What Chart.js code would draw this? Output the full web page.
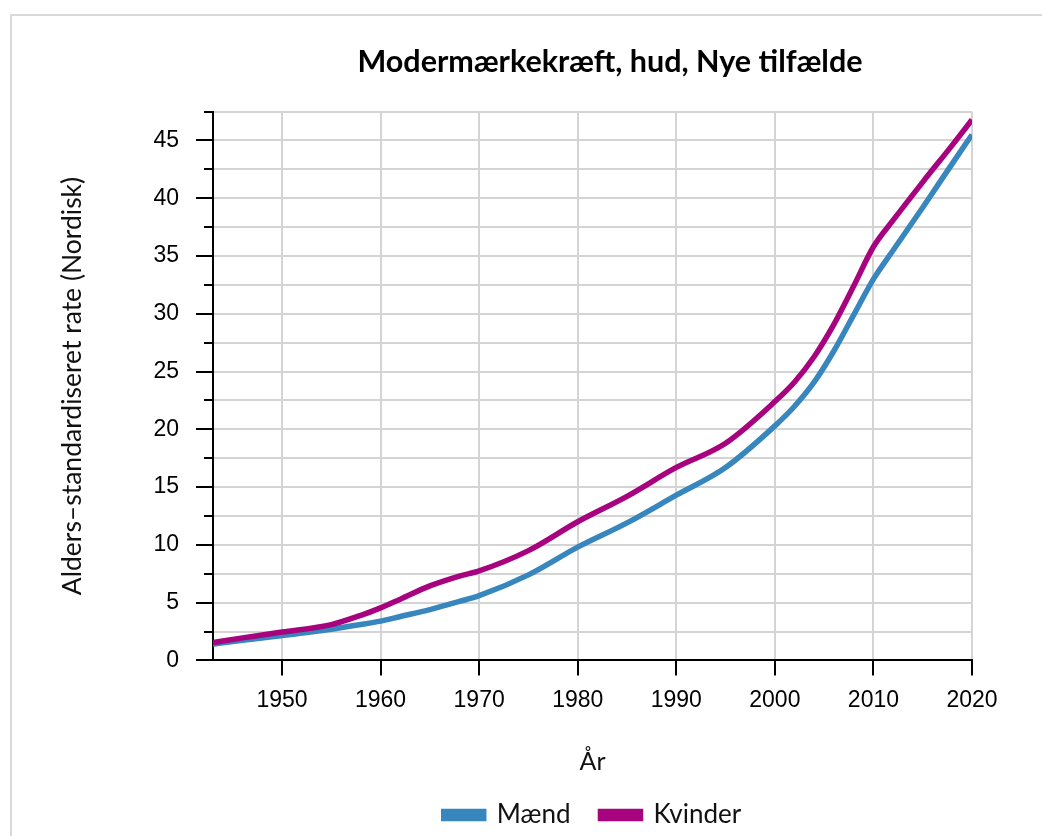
<!DOCTYPE html>
<html>
<head>
<meta charset="utf-8">
<script src="https://cdn.jsdelivr.net/npm/chart.js@4.4.1/dist/chart.umd.min.js"></script>
<style>
  html, body { margin: 0; padding: 0; overflow: hidden; background: #fff; width: 1042px; height: 836px; }
  #frame { position: absolute; left: 10px; top: 14px; width: 1400px; height: 1000px; border: 2px solid #d9d9d9; box-sizing: border-box; background: #fff; }
  #c { position: absolute; left: 0; top: 0; }
</style>
</head>
<body>
<div id="frame"><canvas id="c" width="1196" height="836"></canvas></div>
<script>
const chartTitle = 'Modermærkekræft, hud, Nye tilfælde';
const xTitle = 'År';
const yTitle = 'Alders\u2013standardiseret rate (Nordisk)';
const seriesNames = ['Mænd', 'Kvinder'];

const years   = [1943, 1946, 1950, 1955, 1958, 1960, 1962, 1965, 1968, 1970, 1975, 1980, 1985, 1990, 1995, 2000, 2002, 2004, 2006, 2008, 2010, 2012, 2015, 2018, 2020];
const maend   = [1.40, 1.75, 2.15, 2.70, 3.10, 3.40, 3.80, 4.40, 5.10, 5.60, 7.40, 9.80, 11.9, 14.3, 16.7, 20.3, 22.0, 24.1, 26.8, 29.9, 33.0, 35.5, 39.2, 43.0, 45.5];
const kvinder = [1.55, 1.95, 2.45, 3.10, 3.90, 4.55, 5.30, 6.45, 7.30, 7.75, 9.50, 12.0, 14.2, 16.7, 18.8, 22.4, 24.1, 26.3, 29.1, 32.4, 35.8, 38.1, 41.4, 44.6, 46.8];

const xTickYears = [1950, 1960, 1970, 1980, 1990, 2000, 2010, 2020];
const xMin = 1943, xMax = 2020;
const yMin = 0, yMax = 47.5, yStep = 2.5, yLabelStep = 5;

const colors = ['#3786bd', '#a8037f'];

const toPoints = arr => years.map((yr, i) => ({ x: yr, y: arr[i] }));

const minorTicks = {
  id: 'minorTicks',
  afterDraw(chart) {
    const s = chart.scales.y;
    const ctx = chart.ctx;
    const left = chart.chartArea.left;
    ctx.save();
    ctx.strokeStyle = '#000';
    ctx.lineWidth = 2;
    s.ticks.forEach(t => {
      if (Math.abs(t.value % yLabelStep) > 1e-6) {
        const py = Math.round(s.getPixelForValue(t.value));
        ctx.beginPath();
        ctx.moveTo(left - 9, py);
        ctx.lineTo(left, py);
        ctx.stroke();
      }
    });
    ctx.restore();
  }
};

new Chart(document.getElementById('c'), {
  type: 'line',
  data: {
    datasets: [
      { label: seriesNames[0], data: toPoints(maend), borderColor: colors[0], backgroundColor: colors[0], borderWidth: 5.5, pointRadius: 0, cubicInterpolationMode: 'monotone', order: 2 },
      { label: seriesNames[1], data: toPoints(kvinder), borderColor: colors[1], backgroundColor: colors[1], borderWidth: 5.5, pointRadius: 0, cubicInterpolationMode: 'monotone', order: 1 }
    ]
  },
  options: {
    responsive: false,
    animation: false,
    layout: { padding: { left: 0, right: 0, top: 0, bottom: 14 } },
    plugins: {
      title: {
        display: true, text: chartTitle, color: '#000',
        font: { family: 'Lato', size: 30.5, weight: 'bold' },
        padding: { top: 28, bottom: 31 }
      },
      legend: {
        position: 'bottom', fullSize: false,
        labels: {
          boxWidth: 40, boxHeight: 7, padding: 30, color: '#111',
          font: { family: 'Lato', size: 26 },
          sort: (a, b) => a.datasetIndex - b.datasetIndex
        }
      },
      tooltip: { enabled: false }
    },
    scales: {
      x: {
        type: 'linear', position: 'bottom', min: xMin, max: xMax,
        afterBuildTicks: s => { s.ticks = xTickYears.map(v => ({ value: v })); },
        ticks: { color: '#000', font: { family: 'Liberation Sans', size: 23 }, padding: 11, maxRotation: 0, autoSkip: false, callback: v => String(v) },
        grid: { color: '#d4d4d4', lineWidth: 2, tickLength: 15, tickColor: '#000', tickWidth: 2 },
        border: { color: '#000', width: 2 },
        title: { display: true, text: xTitle, color: '#111', font: { family: 'Lato', size: 25 }, padding: { top: 22, bottom: -5 } }
      },
      y: {
        type: 'linear', position: 'left', min: yMin, max: yMax,
        afterFit: s => { s.width = 201; },
        ticks: { stepSize: yStep, autoSkip: false, color: '#000', font: { family: 'Liberation Sans', size: 23 }, padding: 17,
                 callback: v => (Math.abs(v % yLabelStep) < 1e-6 ? String(v) : '') },
        grid: { color: '#d4d4d4', lineWidth: 2, tickLength: 17, tickWidth: 2,
                tickColor: c => (c.tick && Math.abs(c.tick.value % yLabelStep) < 1e-6 ? '#000' : 'rgba(0,0,0,0)') },
        border: { color: '#000', width: 2 },
        title: { display: true, text: yTitle, color: '#111', font: { family: 'Lato', size: 26.5 }, padding: { top: 45, bottom: 0 } }
      },
      yRight: {
        type: 'linear', position: 'right', display: true,
        afterFit: s => { s.width = 236; },
        ticks: { display: false }, grid: { display: false, drawTicks: false }, border: { display: false }
      }
    }
  },
  plugins: [minorTicks]
});
</script>
</body>
</html>
